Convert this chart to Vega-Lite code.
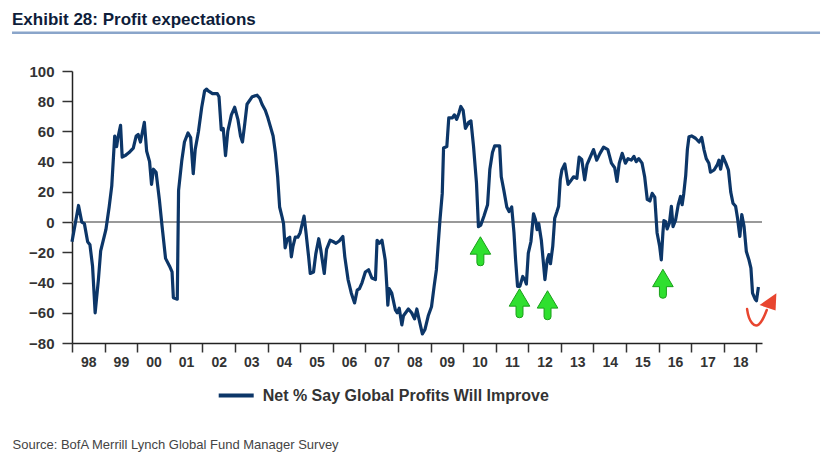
{
  "$schema": "https://vega.github.io/schema/vega-lite/v6.json",
  "width": 690,
  "height": 272,
  "autosize": {"type": "none"},
  "padding": {"left": 72, "top": 71, "right": 70, "bottom": 126},
  "background": "white",
  "config": {"view": {"stroke": null}, "font": "Liberation Sans"},
  "title": {
    "text": "Exhibit 28: Profit expectations",
    "anchor": "start",
    "frame": "group",
    "dx": -60,
    "offset": 3,
    "font": "Liberation Sans",
    "fontSize": 17,
    "fontWeight": "bold",
    "color": "#0e1d3a"
  },
  "resolve": {"axis": {"x": "independent", "y": "independent"}},
  "layer": [
    {
      "data": {"values": [{}]},
      "mark": {"type": "rule", "color": "#8aa5ca", "strokeWidth": 2.5, "clip": false},
      "encoding": {
        "x": {"datum": 1996.16, "type": "quantitative", "scale": {"domain": [1998, 2019.17], "zero": false, "nice": false}, "axis": null},
        "x2": {"datum": 2020.95},
        "y": {"datum": 125.3, "type": "quantitative", "scale": {"domain": [-80, 100], "zero": false, "nice": false}, "axis": null}
      }
    },
    {
      "data": {"values": [{}]},
      "mark": {"type": "rule", "color": "#777777", "strokeWidth": 1.5},
      "encoding": {
        "y": {"datum": 0, "type": "quantitative", "scale": {"domain": [-80, 100], "zero": false, "nice": false}, "axis": null}
      }
    },
    {
      "data": {"values": [
        {"t": 1998.00, "v": -13}, {"t": 1998.20, "v": 11}, {"t": 1998.30, "v": 0}, {"t": 1998.38, "v": -1},
        {"t": 1998.48, "v": -13}, {"t": 1998.55, "v": -15}, {"t": 1998.63, "v": -29}, {"t": 1998.71, "v": -60},
        {"t": 1998.81, "v": -38}, {"t": 1998.88, "v": -19}, {"t": 1999.04, "v": -5}, {"t": 1999.14, "v": 10},
        {"t": 1999.22, "v": 24}, {"t": 1999.31, "v": 57}, {"t": 1999.37, "v": 50}, {"t": 1999.41, "v": 56},
        {"t": 1999.49, "v": 64}, {"t": 1999.54, "v": 43}, {"t": 1999.63, "v": 44}, {"t": 1999.75, "v": 46},
        {"t": 1999.88, "v": 49}, {"t": 1999.97, "v": 57}, {"t": 2000.03, "v": 58}, {"t": 2000.10, "v": 53},
        {"t": 2000.22, "v": 66}, {"t": 2000.29, "v": 47}, {"t": 2000.38, "v": 40}, {"t": 2000.44, "v": 25},
        {"t": 2000.50, "v": 35}, {"t": 2000.58, "v": 33}, {"t": 2000.68, "v": 15}, {"t": 2000.76, "v": -2},
        {"t": 2000.87, "v": -24}, {"t": 2000.99, "v": -29}, {"t": 2001.07, "v": -33}, {"t": 2001.11, "v": -50},
        {"t": 2001.23, "v": -51}, {"t": 2001.27, "v": 21}, {"t": 2001.37, "v": 41}, {"t": 2001.45, "v": 53},
        {"t": 2001.56, "v": 59}, {"t": 2001.64, "v": 56}, {"t": 2001.72, "v": 32}, {"t": 2001.78, "v": 48},
        {"t": 2001.88, "v": 60}, {"t": 2001.98, "v": 76}, {"t": 2002.07, "v": 87}, {"t": 2002.13, "v": 88},
        {"t": 2002.17, "v": 87}, {"t": 2002.31, "v": 85}, {"t": 2002.46, "v": 85}, {"t": 2002.51, "v": 83},
        {"t": 2002.58, "v": 61}, {"t": 2002.64, "v": 62}, {"t": 2002.71, "v": 44}, {"t": 2002.78, "v": 60},
        {"t": 2002.89, "v": 71}, {"t": 2002.99, "v": 76}, {"t": 2003.09, "v": 68}, {"t": 2003.17, "v": 57},
        {"t": 2003.23, "v": 53}, {"t": 2003.30, "v": 65}, {"t": 2003.37, "v": 78}, {"t": 2003.53, "v": 83},
        {"t": 2003.68, "v": 84}, {"t": 2003.76, "v": 82}, {"t": 2003.83, "v": 78}, {"t": 2003.93, "v": 74},
        {"t": 2004.01, "v": 69}, {"t": 2004.09, "v": 63}, {"t": 2004.17, "v": 57}, {"t": 2004.24, "v": 46},
        {"t": 2004.31, "v": 30}, {"t": 2004.37, "v": 10}, {"t": 2004.45, "v": 3}, {"t": 2004.49, "v": -1},
        {"t": 2004.54, "v": -17}, {"t": 2004.61, "v": -11}, {"t": 2004.68, "v": -10}, {"t": 2004.73, "v": -23},
        {"t": 2004.78, "v": -16}, {"t": 2004.85, "v": -10}, {"t": 2004.93, "v": -10}, {"t": 2005.00, "v": -7},
        {"t": 2005.12, "v": 4}, {"t": 2005.18, "v": -7}, {"t": 2005.26, "v": -23}, {"t": 2005.31, "v": -34},
        {"t": 2005.41, "v": -33}, {"t": 2005.48, "v": -21}, {"t": 2005.57, "v": -11}, {"t": 2005.63, "v": -18},
        {"t": 2005.74, "v": -34}, {"t": 2005.81, "v": -18}, {"t": 2005.92, "v": -12}, {"t": 2006.02, "v": -13},
        {"t": 2006.10, "v": -14}, {"t": 2006.20, "v": -12.5}, {"t": 2006.31, "v": -9.5}, {"t": 2006.37, "v": -23},
        {"t": 2006.47, "v": -38}, {"t": 2006.57, "v": -47}, {"t": 2006.67, "v": -53.5}, {"t": 2006.75, "v": -45},
        {"t": 2006.82, "v": -44}, {"t": 2006.90, "v": -40}, {"t": 2007.00, "v": -33}, {"t": 2007.10, "v": -31.5},
        {"t": 2007.20, "v": -37}, {"t": 2007.31, "v": -38}, {"t": 2007.36, "v": -12}, {"t": 2007.43, "v": -14},
        {"t": 2007.51, "v": -12}, {"t": 2007.61, "v": -25}, {"t": 2007.66, "v": -42.5}, {"t": 2007.69, "v": -55},
        {"t": 2007.73, "v": -44}, {"t": 2007.81, "v": -47}, {"t": 2007.92, "v": -58}, {"t": 2007.98, "v": -60},
        {"t": 2008.04, "v": -57}, {"t": 2008.12, "v": -68}, {"t": 2008.17, "v": -62}, {"t": 2008.32, "v": -57.5},
        {"t": 2008.42, "v": -60}, {"t": 2008.51, "v": -64}, {"t": 2008.58, "v": -57.5}, {"t": 2008.65, "v": -64.5},
        {"t": 2008.75, "v": -74}, {"t": 2008.83, "v": -71}, {"t": 2008.93, "v": -62}, {"t": 2009.03, "v": -56},
        {"t": 2009.11, "v": -42.5}, {"t": 2009.18, "v": -31.5}, {"t": 2009.23, "v": -16}, {"t": 2009.29, "v": 1.5},
        {"t": 2009.36, "v": 19}, {"t": 2009.40, "v": 49}, {"t": 2009.50, "v": 50}, {"t": 2009.56, "v": 69},
        {"t": 2009.67, "v": 69}, {"t": 2009.73, "v": 71}, {"t": 2009.80, "v": 68}, {"t": 2009.87, "v": 72},
        {"t": 2009.93, "v": 76.5}, {"t": 2010.00, "v": 74}, {"t": 2010.07, "v": 62}, {"t": 2010.17, "v": 66},
        {"t": 2010.24, "v": 67}, {"t": 2010.32, "v": 50}, {"t": 2010.41, "v": 26}, {"t": 2010.47, "v": -3},
        {"t": 2010.54, "v": -2}, {"t": 2010.64, "v": 4}, {"t": 2010.75, "v": 11.5}, {"t": 2010.82, "v": 35},
        {"t": 2010.90, "v": 46}, {"t": 2010.97, "v": 50.5}, {"t": 2011.12, "v": 50.5}, {"t": 2011.17, "v": 30},
        {"t": 2011.25, "v": 21}, {"t": 2011.34, "v": 10}, {"t": 2011.41, "v": 7}, {"t": 2011.49, "v": 10},
        {"t": 2011.56, "v": -7}, {"t": 2011.61, "v": -25}, {"t": 2011.67, "v": -42.5}, {"t": 2011.74, "v": -42.5},
        {"t": 2011.83, "v": -36}, {"t": 2011.90, "v": -38.5}, {"t": 2011.94, "v": -41}, {"t": 2012.00, "v": -20.5},
        {"t": 2012.08, "v": -13}, {"t": 2012.16, "v": 5.5}, {"t": 2012.22, "v": 1.5}, {"t": 2012.27, "v": -5},
        {"t": 2012.32, "v": -1}, {"t": 2012.40, "v": -12}, {"t": 2012.51, "v": -38}, {"t": 2012.58, "v": -25},
        {"t": 2012.63, "v": -21.5}, {"t": 2012.68, "v": -27.5}, {"t": 2012.75, "v": -16}, {"t": 2012.81, "v": 2.5},
        {"t": 2012.88, "v": 7}, {"t": 2012.93, "v": 10.5}, {"t": 2012.98, "v": 28}, {"t": 2013.03, "v": 34.5},
        {"t": 2013.12, "v": 38.5}, {"t": 2013.22, "v": 25}, {"t": 2013.29, "v": 27}, {"t": 2013.39, "v": 30},
        {"t": 2013.49, "v": 29}, {"t": 2013.56, "v": 43}, {"t": 2013.64, "v": 41.5}, {"t": 2013.73, "v": 28},
        {"t": 2013.80, "v": 38}, {"t": 2013.87, "v": 41.5}, {"t": 2014.00, "v": 48}, {"t": 2014.10, "v": 41},
        {"t": 2014.20, "v": 45.5}, {"t": 2014.31, "v": 49.6}, {"t": 2014.44, "v": 48}, {"t": 2014.55, "v": 39},
        {"t": 2014.65, "v": 36}, {"t": 2014.72, "v": 27}, {"t": 2014.79, "v": 39}, {"t": 2014.88, "v": 45.5},
        {"t": 2014.98, "v": 39}, {"t": 2015.06, "v": 42}, {"t": 2015.16, "v": 41}, {"t": 2015.24, "v": 43.5},
        {"t": 2015.31, "v": 40}, {"t": 2015.39, "v": 42}, {"t": 2015.49, "v": 39}, {"t": 2015.57, "v": 30},
        {"t": 2015.65, "v": 15}, {"t": 2015.73, "v": 14}, {"t": 2015.80, "v": 19}, {"t": 2015.88, "v": 16.5},
        {"t": 2015.95, "v": -7}, {"t": 2016.03, "v": -16}, {"t": 2016.08, "v": -25}, {"t": 2016.13, "v": -7},
        {"t": 2016.16, "v": 1}, {"t": 2016.21, "v": 0.5}, {"t": 2016.26, "v": -4.5}, {"t": 2016.33, "v": -0.5},
        {"t": 2016.39, "v": 10.5}, {"t": 2016.44, "v": -3}, {"t": 2016.52, "v": 1.5}, {"t": 2016.60, "v": 11.5},
        {"t": 2016.67, "v": 17}, {"t": 2016.72, "v": 11.5}, {"t": 2016.77, "v": 19}, {"t": 2016.83, "v": 31},
        {"t": 2016.88, "v": 48}, {"t": 2016.93, "v": 56.5}, {"t": 2017.01, "v": 57}, {"t": 2017.13, "v": 55.5},
        {"t": 2017.24, "v": 53}, {"t": 2017.32, "v": 56}, {"t": 2017.39, "v": 48}, {"t": 2017.46, "v": 42},
        {"t": 2017.54, "v": 39}, {"t": 2017.59, "v": 33}, {"t": 2017.70, "v": 34.5}, {"t": 2017.80, "v": 38},
        {"t": 2017.85, "v": 41}, {"t": 2017.90, "v": 35}, {"t": 2017.97, "v": 43.5}, {"t": 2018.06, "v": 39},
        {"t": 2018.14, "v": 34.5}, {"t": 2018.21, "v": 20}, {"t": 2018.28, "v": 12.5}, {"t": 2018.36, "v": 10.5},
        {"t": 2018.42, "v": 2.5}, {"t": 2018.49, "v": -9.5}, {"t": 2018.55, "v": 5}, {"t": 2018.62, "v": -3},
        {"t": 2018.69, "v": -19.5}, {"t": 2018.77, "v": -25}, {"t": 2018.83, "v": -30.5}, {"t": 2018.88, "v": -47},
        {"t": 2018.96, "v": -51}, {"t": 2019.00, "v": -52}, {"t": 2019.06, "v": -43}
      ]},
      "mark": {"type": "line", "strokeWidth": 3.2, "strokeJoin": "round"},
      "encoding": {
        "x": {
          "field": "t", "type": "quantitative",
          "scale": {"domain": [1998, 2019.17], "zero": false, "nice": false},
          "axis": {
            "values": [1998, 1999, 2000, 2001, 2002, 2003, 2004, 2005, 2006, 2007, 2008, 2009, 2010, 2011, 2012, 2013, 2014, 2015, 2016, 2017, 2018, 2019],
            "labelExpr": "datum.value >= 2019 ? '' : slice('0' + (datum.value % 100), -2)",
            "labelOffset": 16.3,
            "labelFlush": false,
            "labelOverlap": false,
            "labelFont": "Liberation Sans",
            "labelFontWeight": "bold",
            "labelFontSize": 14,
            "labelColor": "#333333",
            "labelPadding": 3,
            "tickSize": 9,
            "tickWidth": 1.5,
            "tickColor": "#333333",
            "domainColor": "#222222",
            "domainWidth": 1.5,
            "grid": false,
            "title": "Source:  BofA Merrill Lynch Global Fund Manager Survey",
            "titleX": -60,
            "titleY": 105,
            "titleAnchor": "start",
            "titleAlign": "left",
            "titleBaseline": "alphabetic",
            "titleFont": "Liberation Sans",
            "titleFontWeight": "normal",
            "titleFontSize": 13,
            "titleColor": "#444444"
          }
        },
        "y": {
          "field": "v", "type": "quantitative",
          "scale": {"domain": [-80, 100], "zero": false, "nice": false},
          "axis": {
            "values": [-80, -60, -40, -20, 0, 20, 40, 60, 80, 100],
            "labelFont": "Liberation Sans",
            "labelFontWeight": "bold",
            "labelFontSize": 15,
            "labelColor": "#333333",
            "labelPadding": 8,
            "tickSize": 10,
            "tickWidth": 1.5,
            "tickColor": "#333333",
            "domainColor": "#222222",
            "domainWidth": 1.5,
            "grid": false,
            "title": null
          }
        },
        "color": {
          "datum": "Net % Say Global Profits Will Improve",
          "type": "nominal",
          "scale": {"range": ["#0c3668"]},
          "legend": {
            "orient": "none",
            "legendX": 144.7,
            "legendY": 305,
            "title": null,
            "padding": 0,
            "symbolType": "stroke",
            "symbolSize": 1225,
            "symbolStrokeWidth": 4,
            "labelFont": "Liberation Sans",
            "labelFontWeight": "bold",
            "labelFontSize": 16,
            "labelColor": "#333333",
            "labelOffset": 7,
            "labelLimit": 400
          }
        }
      }
    },
    {
      "data": {"values": [
        {"t": 2010.53, "v": -19.3},
        {"t": 2011.73, "v": -53.7},
        {"t": 2012.59, "v": -55},
        {"t": 2016.13, "v": -40.8}
      ]},
      "mark": {
        "type": "point",
        "shape": "M0,-1 L0.71,0.2 L0.24,0.2 L0.24,0.8 Q0.24,1 0,1 Q-0.24,1 -0.24,0.8 L-0.24,0.2 L-0.71,0.2 Z",
        "size": 841,
        "filled": true,
        "fill": "#2fe02f",
        "stroke": "#1a9f1a",
        "strokeWidth": 1,
        "opacity": 1
      },
      "encoding": {
        "x": {"field": "t", "type": "quantitative", "scale": {"domain": [1998, 2019.17], "zero": false, "nice": false}, "axis": null},
        "y": {"field": "v", "type": "quantitative", "scale": {"domain": [-80, 100], "zero": false, "nice": false}, "axis": null}
      }
    },
    {
      "data": {"values": [{"t": 2019.12, "v": -58.7}]},
      "mark": {
        "type": "point",
        "shape": "M-0.83,-0.11 C-0.72,0.75 -0.35,1.05 -0.1,0.85 C0.1,0.7 0.25,0.35 0.4,-0.05",
        "size": 1024,
        "filled": false,
        "stroke": "#e8452f",
        "strokeWidth": 2.5,
        "strokeCap": "round",
        "opacity": 1,
        "clip": false
      },
      "encoding": {
        "x": {"field": "t", "type": "quantitative", "scale": {"domain": [1998, 2019.17], "zero": false, "nice": false}, "axis": null},
        "y": {"field": "v", "type": "quantitative", "scale": {"domain": [-80, 100], "zero": false, "nice": false}, "axis": null}
      }
    },
    {
      "data": {"values": [{"t": 2019.12, "v": -58.7}]},
      "mark": {
        "type": "point",
        "shape": "M1,-1.1 L0.95,-0.02 L-0.05,-0.36 Z",
        "size": 1024,
        "filled": true,
        "fill": "#e8452f",
        "strokeWidth": 0,
        "opacity": 1,
        "clip": false
      },
      "encoding": {
        "x": {"field": "t", "type": "quantitative", "scale": {"domain": [1998, 2019.17], "zero": false, "nice": false}, "axis": null},
        "y": {"field": "v", "type": "quantitative", "scale": {"domain": [-80, 100], "zero": false, "nice": false}, "axis": null}
      }
    }
  ]
}
